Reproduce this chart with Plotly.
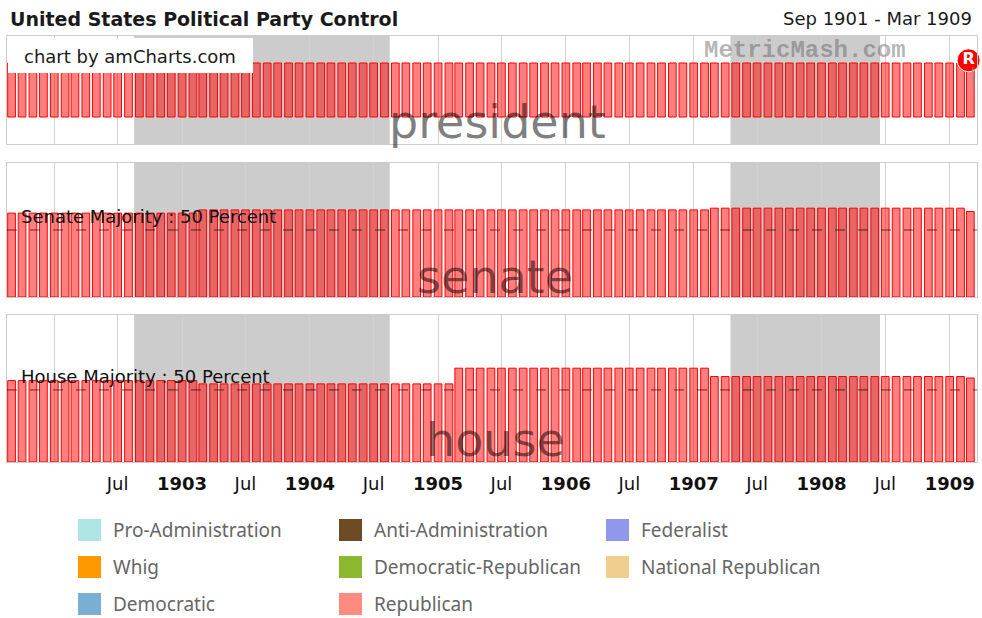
import plotly.graph_objects as go
import pandas as pd

# ---------------- data ----------------
congress_start = ["1901-09-01", "1903-03-01", "1905-03-01", "1907-03-01", "1909-03-01"]
senate_pct = [62.6, 65.0, 65.0, 66.3, 63.8]
house_pct = [56.5, 54.2, 65.1, 59.3, 58.3]
president_val = [1, 1, 1, 1, 1]          # Republican president throughout
months = pd.date_range("1901-09-01", "1909-03-01", freq="MS")

recessions = [("1902-09-01", "1904-08-01"), ("1907-05-01", "1908-06-01")]
event_dates = ["1909-02-24"]
event_labels = ["R"]

tick_vals = ["1902-01-01", "1902-07-01", "1903-01-01", "1903-07-01", "1904-01-01",
             "1904-07-01", "1905-01-01", "1905-07-01", "1906-01-01", "1906-07-01",
             "1907-01-01", "1907-07-01", "1908-01-01", "1908-07-01", "1909-01-01"]
tick_text = ["", "Jul", "<b>1903</b>", "Jul", "<b>1904</b>", "Jul", "<b>1905</b>", "Jul",
             "<b>1906</b>", "Jul", "<b>1907</b>", "Jul", "<b>1908</b>", "Jul", "<b>1909</b>"]

legend_names = ["Pro-Administration", "Anti-Administration", "Federalist",
                "Whig", "Democratic-Republican", "National Republican",
                "Democratic", "Republican"]
legend_colors = ["#ade6e4", "#6b4a24", "#9198eb",
                 "#ff9900", "#8bb82f", "#efce8f",
                 "#7aafd5", "#ff8a80"]

# expand per-congress values to months
starts = pd.to_datetime(congress_start)
def expand(vals):
    out = []
    for m in months:
        idx = max(i for i, s in enumerate(starts) if s <= m)
        out.append(vals[idx])
    return out

senate_m = expand(senate_pct)
house_m = expand(house_pct)
pres_m = expand(president_val)

# ---------------- layout helpers ----------------
W, H = 982, 618
ML, MR, MT, MB = 7, 5, 36, 156
PW, PH = W - ML - MR, H - MT - MB
def px_x(px):
    return (px - ML) / PW
def px_y(py):
    return (H - MB - py) / PH

BAR_W = 22 * 86400000
bar_fill = "rgba(255,0,0,0.5)"
bar_line = "#ff0000"

fig = go.Figure()
for xa, ya, vals in [("x", "y", pres_m), ("x2", "y2", senate_m), ("x3", "y3", house_m)]:
    fig.add_trace(go.Bar(x=months, y=vals, xaxis=xa, yaxis=ya, width=BAR_W,
                         marker=dict(color=bar_fill, line=dict(color=bar_line, width=1)),
                         showlegend=False, hoverinfo="skip"))

fig.add_trace(go.Scatter(x=event_dates, y=[1.05], xaxis="x", yaxis="y",
                         mode="markers+text", text=["<b>%s</b>" % t for t in event_labels],
                         textposition="middle center",
                         textfont=dict(color="white", size=16, family="DejaVu Sans"),
                         marker=dict(size=23, color="#ff0000", line=dict(color="white", width=1)),
                         cliponaxis=False, showlegend=False, hoverinfo="skip"))

xrange = ["1901-08-19", "1909-03-20"]
axis_common = dict(type="date", range=xrange, tickmode="array", tickvals=tick_vals,
                   showgrid=True, gridcolor="#d2d2d2", gridwidth=1,
                   showline=True, mirror=True, linecolor="#cccccc", linewidth=1,
                   zeroline=False, fixedrange=True)
ycommon = dict(showticklabels=False, showgrid=False, zeroline=False,
               showline=True, mirror=True, linecolor="#cccccc", linewidth=1, fixedrange=True)

fig.update_layout(
    width=W, height=H,
    margin=dict(l=ML, r=MR, t=MT, b=MB),
    paper_bgcolor="white", plot_bgcolor="white",
    barmode="overlay", showlegend=False,
    xaxis=dict(axis_common, anchor="y", showticklabels=False, ticks=""),
    xaxis2=dict(axis_common, anchor="y2", showticklabels=False, ticks=""),
    xaxis3=dict(axis_common, anchor="y3", showticklabels=True, ticktext=tick_text,
                ticks="outside", ticklen=5, tickcolor="rgba(0,0,0,0)",
                tickfont=dict(family="DejaVu Sans", size=18, color="#111")),
    yaxis=dict(ycommon, domain=[px_y(144), px_y(36)], range=[-0.5, 1.5]),
    yaxis2=dict(ycommon, domain=[px_y(297), px_y(163)], range=[0, 100]),
    yaxis3=dict(ycommon, domain=[px_y(462), px_y(315)], range=[0, 102]),
)

shapes = []
half = pd.Timedelta(days=15)
for xa, ya in [("x", "y"), ("x2", "y2"), ("x3", "y3")]:
    for s, e in recessions:
        shapes.append(dict(type="rect", xref=xa, yref=ya + " domain",
                           x0=pd.Timestamp(s) - half, x1=pd.Timestamp(e) + half,
                           y0=0, y1=1, fillcolor="rgba(0,0,0,0.2)",
                           line=dict(width=0), layer="below"))
for xa, ya in [("x2", "y2"), ("x3", "y3")]:
    shapes.append(dict(type="line", xref=xa + " domain", yref=ya, x0=0, x1=1, y0=50, y1=50,
                       line=dict(color="rgba(0,0,0,0.65)", width=1, dash="10px,13px"),
                       layer="above"))
# event stem
shapes.append(dict(type="line", xref="x", yref="y", x0="1909-03-08", x1="1909-03-08",
                   y0=0.55, y1=0.92, line=dict(color="#999999", width=1), layer="above"))
# amCharts credit box
shapes.append(dict(type="rect", xref="paper", yref="paper",
                   x0=px_x(8), x1=px_x(253), y0=px_y(73), y1=px_y(38),
                   fillcolor="white", line=dict(width=0), layer="above"))
# legend swatches
col_x = [78, 339, 606]
row_y = [530, 567, 604]
for i, (nm, c) in enumerate(zip(legend_names, legend_colors)):
    cx = col_x[i % 3]
    cy = row_y[i // 3]
    shapes.append(dict(type="rect", xref="paper", yref="paper",
                       x0=px_x(cx), x1=px_x(cx + 23), y0=px_y(cy + 11), y1=px_y(cy - 11),
                       fillcolor=c, line=dict(width=0)))
fig.update_layout(shapes=shapes)

ann = []
def add_text(text, x, y, size, color="#222", xanchor="left", family="DejaVu Sans", yanchor="middle"):
    ann.append(dict(text=text, x=px_x(x), y=px_y(y), xref="paper", yref="paper",
                    xanchor=xanchor, yanchor=yanchor, showarrow=False,
                    font=dict(family=family, size=size, color=color)))

add_text("<b>United States Political Party Control</b>", 8, 19, 19, "#1a1a1a")
add_text("Sep 1901 - Mar 1909", 974, 19, 18, "#1a1a1a", xanchor="right")
add_text("chart by amCharts.com", 22, 56, 18, "#1a1a1a")
add_text("<b>MetricMash.com</b>", 805, 51, 24, "rgba(90,90,90,0.45)", xanchor="center",
         family="Liberation Mono")
add_text("president", 497, 122, 46, "rgba(0,0,0,0.5)", xanchor="center")
add_text("senate", 495, 277, 46, "rgba(0,0,0,0.5)", xanchor="center")
add_text("house", 495, 440, 46, "rgba(0,0,0,0.5)", xanchor="center")
add_text("Senate Majority : 50 Percent", 19, 216, 18, "#111")
add_text("House Majority : 50 Percent", 19, 376, 18, "#111")
for i, nm in enumerate(legend_names):
    add_text(nm, col_x[i % 3] + 33, row_y[i // 3], 19, "#666", family="Noto Sans")
fig.update_layout(annotations=ann)

fig.write_html("out.html", config={"displayModeBar": False})
